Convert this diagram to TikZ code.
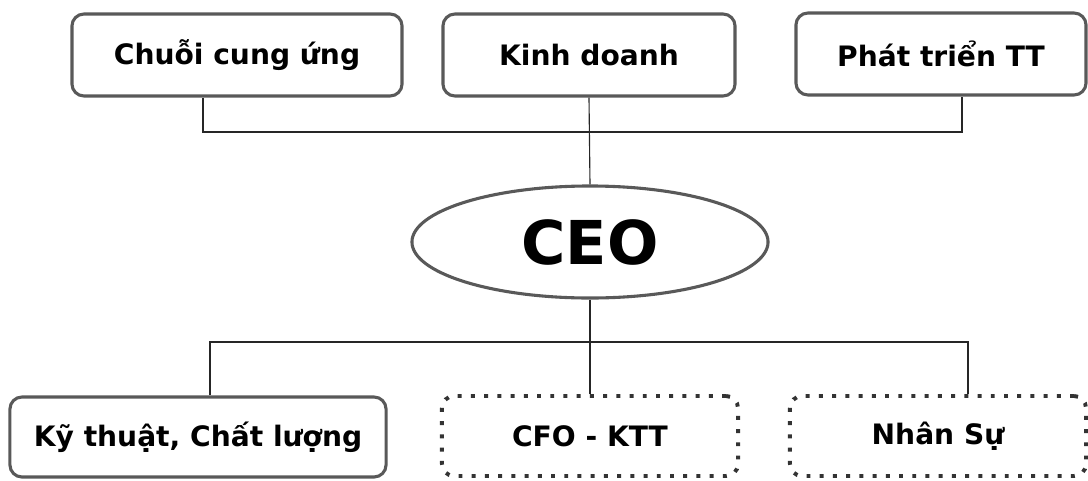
\documentclass[tikz,border=0pt]{standalone}
\usepackage{fontspec}
\setmainfont{DejaVu Sans}
\usetikzlibrary{shapes.geometric}

\begin{document}
\begin{tikzpicture}[
  x=0.025cm, y=-0.025cm,
  unit/.style={draw=black!65, line width=2.2pt, rounded corners=0.3cm,
    minimum height=2.05cm, align=center, inner sep=0pt,
    font=\fontsize{20}{24}\selectfont\bfseries},
  dotunit/.style={unit, draw=black!80, line width=2.8pt,
    dash pattern=on 2.8pt off 6.6pt},
  boss/.style={draw=black!65, line width=2.2pt, ellipse,
    minimum width=8.9cm, minimum height=2.8cm, inner sep=0pt,
    font=\fontsize{43}{48}\selectfont\bfseries},
  link/.style={draw=black!85, line width=0.8pt}
]
  \useasboundingbox (0,0) rectangle (1088,481);
  % top row
  \node[unit, minimum width=8.25cm] (chain) at (237,55) {Chuỗi cung ứng};
  \node[unit, minimum width=7.3cm] (sales) at (589,55) {Kinh doanh};
  \node[unit, minimum width=7.25cm] (market) at (941,54) {Phát triển TT};
  % centre
  \node[boss] (ceo) at (590,242) {CEO};
  % bottom row
  \node[unit, minimum width=9.4cm, minimum height=2cm] (tech) at (198,437)
    {Kỹ thuật, Chất lượng};
  \node[dotunit, minimum width=7.4cm, minimum height=2cm] (cfo) at (590,436)
    {CFO - KTT};
  \node[dotunit, minimum width=7.4cm, minimum height=2cm] (hr) at (938,436)
    {Nhân Sự};
  % connectors
  \coordinate (topl) at (203,132);
  \coordinate (topr) at (962,132);
  \coordinate (botl) at (210,342);
  \coordinate (botr) at (968,342);
  \draw[link] (topl |- chain.south) -- (topl) -- (topr) -- (topr |- market.south);
  \draw[link] (sales.south) -- (ceo.north);
  \draw[link] (botl |- tech.north) -- (botl) -- (botr) -- (botr |- hr.north);
  \draw[link] (ceo.south) -- (cfo.north);
\end{tikzpicture}
\end{document}
